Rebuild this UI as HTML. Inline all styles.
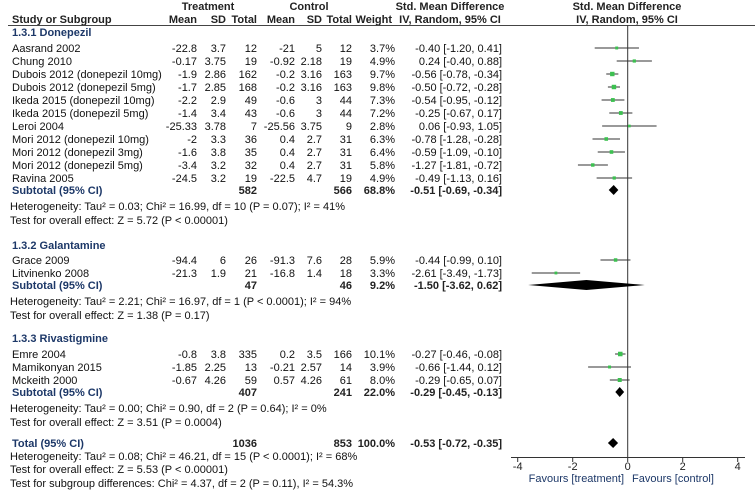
<!DOCTYPE html>
<html><head><meta charset="utf-8">
<style>
body{margin:0;background:#fff;}
svg{display:block;font-family:"Liberation Sans",Arial,sans-serif;font-size:11px;}
</style></head>
<body>
<svg id="c" width="755" height="492" viewBox="0 0 755 492"></svg>
<script>
// ---- data ----
const studyNames=["Aasrand 2002","Chung 2010","Dubois 2012 (donepezil 10mg)","Dubois 2012 (donepezil 5mg)","Ikeda 2015 (donepezil 10mg)","Ikeda 2015 (donepezil 5mg)","Leroi 2004","Mori 2012 (donepezil 10mg)","Mori 2012 (donepezil 3mg)","Mori 2012 (donepezil 5mg)","Ravina 2005","Grace 2009","Litvinenko 2008","Emre 2004","Mamikonyan 2015","Mckeith 2000"];
const studyGroup=[0,0,0,0,0,0,0,0,0,0,0,1,1,2,2,2];
const tMean=["-22.8","-0.17","-1.9","-1.7","-2.2","-1.4","-25.33","-2","-1.6","-3.4","-24.5","-94.4","-21.3","-0.8","-1.85","-0.67"];
const tSD=["3.7","3.75","2.86","2.85","2.9","3.4","3.78","3.3","3.8","3.2","3.2","6","1.9","3.8","2.25","4.26"];
const tN=["12","19","162","168","49","43","7","36","35","32","19","26","21","335","13","59"];
const cMean=["-21","-0.92","-0.2","-0.2","-0.6","-0.6","-25.56","0.4","0.4","0.4","-22.5","-91.3","-16.8","0.2","-0.21","0.57"];
const cSD=["5","2.18","3.16","3.16","3","3","3.75","2.7","2.7","2.7","4.7","7.6","1.4","3.5","2.57","4.26"];
const cN=["12","19","163","163","44","44","9","31","31","31","19","28","18","166","14","61"];
const weight=[3.7,4.9,9.7,9.8,7.3,7.2,2.8,6.3,6.4,5.8,4.9,5.9,3.3,10.1,3.9,8.0];
const smd=[-0.40,0.24,-0.56,-0.50,-0.54,-0.25,0.06,-0.78,-0.59,-1.27,-0.49,-0.44,-2.61,-0.27,-0.66,-0.29];
const lo=[-1.20,-0.40,-0.78,-0.72,-0.95,-0.67,-0.93,-1.28,-1.09,-1.81,-1.13,-0.99,-3.49,-0.46,-1.44,-0.65];
const hi=[0.41,0.88,-0.34,-0.28,-0.12,0.17,1.05,-0.28,-0.10,-0.72,0.16,0.10,-1.73,-0.08,0.12,0.07];
const groupTitles=["1.3.1 Donepezil","1.3.2 Galantamine","1.3.3 Rivastigmine"];
const groupTN=["582","47","407"], groupCN=["566","46","241"], groupW=[68.8,9.2,22.0];
const groupSmd=[-0.51,-1.50,-0.29], groupLo=[-0.69,-3.62,-0.45], groupHi=[-0.34,0.62,-0.13];
const groupHet=["Heterogeneity: Tau² = 0.03; Chi² = 16.99, df = 10 (P = 0.07); I² = 41%","Heterogeneity: Tau² = 2.21; Chi² = 16.97, df = 1 (P < 0.0001); I² = 94%","Heterogeneity: Tau² = 0.00; Chi² = 0.90, df = 2 (P = 0.64); I² = 0%"];
const groupTest=["Test for overall effect: Z = 5.72 (P < 0.00001)","Test for overall effect: Z = 1.38 (P = 0.17)","Test for overall effect: Z = 3.51 (P = 0.0004)"];
const totalSmd=-0.53, totalLo=-0.72, totalHi=-0.35;
const axisTicks=[-4,-2,0,2,4];

// ---- layout ----
const svg=document.getElementById('c');
const NS="http://www.w3.org/2000/svg";
const X0=627.7, SC=27.5;
const xs=v=>X0+v*SC;
const NAVY="#1d3868";
function el(tag,attrs,name,parent){const e=document.createElementNS(NS,tag);for(const k in attrs)e.setAttribute(k,attrs[k]);


(parent||svg).appendChild(e);return e;}
function txt(x,y,s,name,anchor,bold,color){const t=el('text',{x:x,y:y+4,'text-anchor':anchor||'start','font-weight':bold?'bold':'normal',fill:color||'#111'},name);t.textContent=s;return t;}
const f2=v=>v.toFixed(2);
const ci=(m,l,h)=>f2(m)+" ["+f2(l)+", "+f2(h)+"]";

// headers
txt(208,6,"Treatment","treatment-header","middle",true,"#222");
txt(309,6,"Control","control-header","middle",true,"#222");
txt(450,6,"Std. Mean Difference","smd-header","middle",true,"#222");
txt(627,6,"Std. Mean Difference","plot-header","middle",true,"#222");
txt(12,19,"Study or Subgroup","study-header","start",true,"#222");
txt(197,19,"Mean","t-mean-header","end",true,"#222");
txt(226,19,"SD","t-sd-header","end",true,"#222");
txt(257,19,"Total","t-total-header","end",true,"#222");
txt(295,19,"Mean","c-mean-header","end",true,"#222");
txt(322,19,"SD","c-sd-header","end",true,"#222");
txt(352,19,"Total","c-total-header","end",true,"#222");
txt(392,19,"Weight","weight-header","end",true,"#222");
txt(450,19,"IV, Random, 95% CI","smd-subheader","middle",true,"#222");
txt(627,19,"IV, Random, 95% CI","plot-subheader","middle",true,"#222");
el('line',{x1:8,y1:25.5,x2:755,y2:25.5,stroke:'#444','stroke-width':1},'header-rule');

// zero line
el('line',{x1:xs(0),y1:25,x2:xs(0),y2:458,stroke:'#333','stroke-width':1},'zero-line');

function diamond(y,m,l,h,name){
  el('polygon',{points:`${xs(l)},${y} ${xs(m)},${y-5} ${xs(h)},${y} ${xs(m)},${y+5}`,fill:'#000'},name);
}

const titleY=[32,245,338], firstRowY=[48,260,354];
for(let g=0;g<3;g++){
  txt(12,titleY[g],groupTitles[g],'subgroup-title-'+(g+1),'start',true,NAVY);
  let y=firstRowY[g];
  for(let i=0;i<studyNames.length;i++){
    if(studyGroup[i]!==g)continue;
    txt(12,y,studyNames[i],'study-name','start');
    txt(197,y,tMean[i],'t-mean','end');
    txt(226,y,tSD[i],'t-sd','end');
    txt(257,y,tN[i],'t-total','end');
    txt(295,y,cMean[i],'c-mean','end');
    txt(322,y,cSD[i],'c-sd','end');
    txt(352,y,cN[i],'c-total','end');
    txt(395,y,weight[i].toFixed(1)+"%",'weight','end');
    txt(502,y,ci(smd[i],lo[i],hi[i]),'smd-ci','end');
    el('line',{x1:xs(lo[i]),y1:y,x2:xs(hi[i]),y2:y,stroke:'#333','stroke-width':1},'ci-line');
    const s=2+weight[i]*0.25;
    el('rect',{x:xs(smd[i])-s/2,y:y-s/2,width:s,height:s,fill:'#3cc050'},'effect-square');
    y+=13;
  }
  y-=1;
  txt(12,y,"Subtotal (95% CI)",'subtotal-label-'+(g+1),'start',true,NAVY);
  txt(257,y,groupTN[g],'subtotal-t-total','end',true,"#222");
  txt(352,y,groupCN[g],'subtotal-c-total','end',true,"#222");
  txt(395,y,groupW[g].toFixed(1)+"%",'subtotal-weight','end',true,"#222");
  txt(502,y,ci(groupSmd[g],groupLo[g],groupHi[g]),'subtotal-ci','end',true,"#222");
  diamond(y,groupSmd[g],groupLo[g],groupHi[g],'subtotal-diamond-'+(g+1));
  txt(10,y+16,groupHet[g],'heterogeneity-text','start');
  txt(10,y+30,groupTest[g],'overall-effect-text','start');
}
// total
txt(12,443,"Total (95% CI)",'total-label','start',true,NAVY);
txt(257,443,"1036",'total-t','end',true,"#222");
txt(352,443,"853",'total-c','end',true,"#222");
txt(395,443,"100.0%",'total-weight','end',true,"#222");
txt(502,443,ci(totalSmd,totalLo,totalHi),'total-ci','end',true,"#222");
diamond(443,totalSmd,totalLo,totalHi,'total-diamond');
txt(10,456,"Heterogeneity: Tau² = 0.08; Chi² = 46.21, df = 15 (P < 0.0001); I² = 68%",'total-heterogeneity','start');
txt(10,469,"Test for overall effect: Z = 5.53 (P < 0.00001)",'total-effect','start');
txt(10,483,"Test for subgroup differences: Chi² = 4.37, df = 2 (P = 0.11), I² = 54.3%",'subgroup-differences','start');

// axis
el('line',{x1:511,y1:457.5,x2:745,y2:457.5,stroke:'#333','stroke-width':1},'x-axis');
axisTicks.forEach(v=>{
  el('line',{x1:xs(v),y1:457,x2:xs(v),y2:462,stroke:'#333','stroke-width':1},'x-tick');
  txt(xs(v),466,String(v),'x-tick-label','middle',false,'#222');
});
txt(624,478,"Favours [treatment]",'favours-treatment','end',false,NAVY);
txt(632,478,"Favours [control]",'favours-control','start',false,NAVY);
</script>
</body></html>
